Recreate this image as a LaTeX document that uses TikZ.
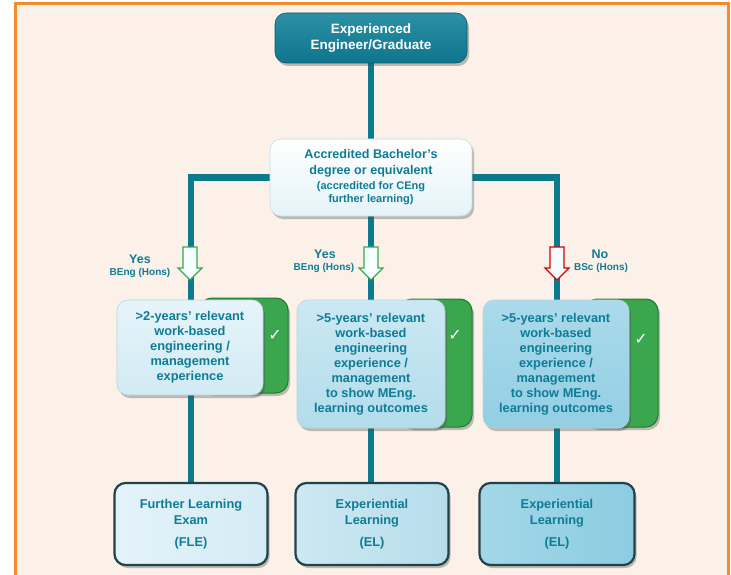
\documentclass[tikz,border=0pt]{standalone}
\usepackage{fontspec}
\setmainfont{Liberation Sans}
\newfontfamily\symfont{DejaVu Sans}
\usetikzlibrary{shadows,backgrounds}
\definecolor{linec}{HTML}{0B7A8F}
\definecolor{txtc}{HTML}{0E7C95}
\definecolor{bgc}{HTML}{FCF1E9}
\definecolor{orng}{HTML}{F28A2E}
\definecolor{grn}{HTML}{3AA74F}
\definecolor{dgrn}{HTML}{1F7A36}
\definecolor{topc}{HTML}{0F8099}
\definecolor{edgec}{HTML}{22424A}
\definecolor{accb}{HTML}{E4F3F8}
\definecolor{mAt}{HTML}{E6F4FA}\definecolor{mAb}{HTML}{D2EAF4}
\definecolor{mBt}{HTML}{CBE8F3}\definecolor{mBb}{HTML}{B3DCEB}
\definecolor{mCt}{HTML}{ABDAEB}\definecolor{mCb}{HTML}{93CEE3}
\definecolor{bAl}{HTML}{E4F3F9}\definecolor{bAr}{HTML}{D4EBF5}
\definecolor{bBl}{HTML}{CDE8F2}\definecolor{bBr}{HTML}{B6DDEC}
\definecolor{bCl}{HTML}{A3D7E8}\definecolor{bCr}{HTML}{8CCCE1}
\tikzset{
  conn/.style={draw=linec, line width=6pt},
  shad/.style={drop shadow={shadow xshift=2pt, shadow yshift=-3pt, opacity=0.35, fill=black!70}},
  basebox/.style={rounded corners=11pt, align=center, font=\bfseries, text=txtc, inner sep=2pt, shad},
  topbox/.style={basebox, text=white, top color=topc!88!white, bottom color=topc!92!black, draw=topc!70!black, line width=0.6pt},
  accbox/.style={basebox, top color=white, bottom color=accb, draw=linec!25, line width=0.6pt, font=\bfseries\fontsize{12.6}{15.5}\selectfont},
  midbox/.style={basebox, draw=linec!30, line width=0.6pt, font=\bfseries\fontsize{12.8}{15}\selectfont},
  tabbox/.style={rounded corners=12pt, fill=grn, draw=dgrn, line width=1pt, shad},
  endbox/.style={basebox, draw=edgec, line width=2.2pt, minimum height=82pt, font=\bfseries\fontsize{12.8}{16}\selectfont},
  checkm/.style={text=white, font=\symfont\fontsize{16}{16}\selectfont\bfseries, inner sep=0pt},
  yeslbl/.style={text=txtc, font=\bfseries\fontsize{12.5}{13}\selectfont, inner sep=0pt},
  hons/.style={text=txtc, font=\bfseries\fontsize{10}{11}\selectfont, inner sep=0pt},
  arrowg/.style={fill=green!4!cyan!4!white, draw=grn, line width=1.2pt, line join=miter},
  arrowr/.style={fill=cyan!5!white, draw=red!85!black, line width=1.2pt, line join=miter}
}
\newcommand{\hollowdown}[2]{%
  \path[#2] ([shift={(-7,0)}]#1) -- ([shift={(7,0)}]#1) -- ([shift={(7,21)}]#1) -- ([shift={(12,21)}]#1)
    -- ([shift={(0,33)}]#1) -- ([shift={(-12,21)}]#1) -- ([shift={(-7,21)}]#1) -- cycle;}
\begin{document}
\begin{tikzpicture}[x=1pt, y=-1pt]
\useasboundingbox (0,0) rectangle (731,575);
\begin{pgfonlayer}{background}
  \fill[white] (0,0) rectangle (731,575);
  \fill[bgc] (15,4) rectangle (728,575);
  \draw[orng, line width=3pt] (15,577) -- (15,4) -- (728,4) -- (728,577);
\end{pgfonlayer}

% top and accreditation nodes
\node[topbox, minimum width=192pt, minimum height=50pt, font=\bfseries\fontsize{13.5}{16.5}\selectfont] (top) at (371,38) {Experienced\\Engineer/Graduate};
\node[accbox, minimum width=202pt, minimum height=77pt] (acc) at (371,177.5)
  {Accredited Bachelor’s\\degree or equivalent\\
   {\fontsize{11}{14}\selectfont (accredited for CEng}\\[-2.5pt]{\fontsize{11}{14}\selectfont further learning)}};

% bottom nodes
\node[endbox, minimum width=153pt, left color=bAl, right color=bAr] (b1) at (191,524) {Further Learning\\Exam\\[6pt](FLE)};
\node[endbox, minimum width=153pt, left color=bBl, right color=bBr] (b2) at (372,524) {Experiential\\Learning\\[6pt](EL)};
\node[endbox, minimum width=155pt, left color=bCl, right color=bCr] (b3) at (557,524) {Experiential\\Learning\\[6pt](EL)};

% green tabs
\node[tabbox, minimum width=88pt, minimum height=95pt] (t1) at (244,345.5) {};
\node[tabbox, minimum width=72pt, minimum height=128pt] (t2) at (436,363) {};
\node[tabbox, minimum width=73pt, minimum height=128pt] (t3) at (621.5,363) {};

% middle boxes
\node[midbox, minimum width=146pt, minimum height=95pt, top color=mAt, bottom color=mAb] (m1) at (190,347.5)
  {>2-years’ relevant\\work-based\\engineering /\\management\\experience};
\node[midbox, minimum width=148pt, minimum height=128pt, top color=mBt, bottom color=mBb] (m2) at (371,364)
  {>5-years’ relevant\\work-based\\engineering\\experience /\\management\\to show MEng.\\learning outcomes};
\node[midbox, minimum width=146pt, minimum height=128pt, top color=mCt, bottom color=mCb] (m3) at (556,364)
  {>5-years’ relevant\\work-based\\engineering\\experience /\\management\\to show MEng.\\learning outcomes};

% checks
\node[checkm] (c1) at (275,335) {✓};
\node[checkm] (c2) at (455,335) {✓};
\node[checkm] (c3) at (641,339) {✓};

% connectors
\begin{pgfonlayer}{background}
  \draw[conn] (top.south) -- (acc.north);
  \draw[conn] (acc.west) -| (b1.north);
  \draw[conn] (acc.south) -- (acc.south |- b2.north);
  \draw[conn] (acc.east) -| (b3.north);
\end{pgfonlayer}

% arrows
\coordinate (a1) at (190,247);
\coordinate (a2) at (371,247);
\coordinate (a3) at (557,247);
\hollowdown{a1}{arrowg}
\hollowdown{a2}{arrowg}
\hollowdown{a3}{arrowr}

% labels
\node[yeslbl] (y1) at (140,259) {Yes};
\node[hons] (h1) at (140,273) {BEng (Hons)};
\node[yeslbl] (y2) at (325,254) {Yes};
\node[hons] (h2) at (324,267.5) {BEng (Hons)};
\node[yeslbl] (y3) at (600,254) {No};
\node[hons] (h3) at (601,267.5) {BSc (Hons)};
\end{tikzpicture}
\end{document}
